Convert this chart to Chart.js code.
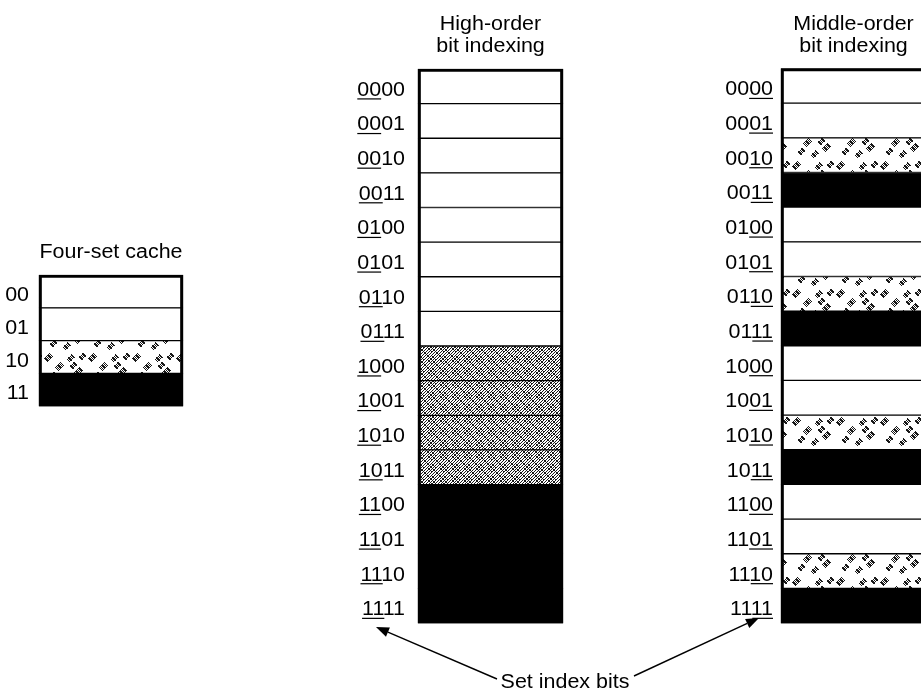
<!DOCTYPE html>
<html><head><meta charset="utf-8">
<script src="https://cdn.jsdelivr.net/npm/chart.js@4/dist/chart.umd.min.js"></script>
<style>html,body{margin:0;padding:0;background:#fff;overflow:hidden}#wrap{width:921px;height:697px;position:relative}</style>
</head><body><div id="wrap"><canvas id="c" width="921" height="697"></canvas></div>
<script>
// ---- data ----
const fourSetLabels = ['00','01','10','11'];
const fourSetSets = [0,1,2,3];
const addressLabels = ['0000','0001','0010','0011','0100','0101','0110','0111','1000','1001','1010','1011','1100','1101','1110','1111'];
const highOrderSets = [0,0,0,0,1,1,1,1,2,2,2,2,3,3,3,3];
const middleOrderSets = [0,1,2,3,0,1,2,3,0,1,2,3,0,1,2,3];
const fourSetTitle = ['Four-set cache'];
const highOrderTitle = ['High-order','bit indexing'];
const middleOrderTitle = ['Middle-order','bit indexing'];
const highOrderUnderline = [0,2];
const middleOrderUnderline = [2,4];
const calloutText = 'Set index bits';

// ---- styles / layout ----
function makePattern(w,h,fn){
  const c=document.createElement('canvas');c.width=w;c.height=h;
  const g=c.getContext('2d');const img=g.createImageData(w,h);
  for(let y=0;y<h;y++)for(let x=0;x<w;x++){
    const i=(y*w+x)*4;const v=fn(x,y)?25:255;
    img.data[i]=v;img.data[i+1]=v;img.data[i+2]=v;img.data[i+3]=255;
  }
  g.putImageData(img,0,0);
  return g.createPattern(c,'repeat');
}
const densePattern = makePattern(12,12,(x,y)=>((x+y)%3===0)||(((x-y+96)%4===0)&&(((x>>2)+(y>>2))%2===0)));
const blobs=[[4,5],[15,14],[26,6],[34,19],[9,23],[22,26],[38,4],[29,13]];
const lightPattern = makePattern(44,32,(x,y)=>{
  for(const [bx,by] of blobs){
    const dx=x-bx,dy=y-by;
    if(Math.abs(dx-dy)<=5 && Math.abs(dx+dy)<=3 && (((x+y)%2===0)||((x-y+44)%3===0))) return true;
  }
  return false;
});

const columns = [
  {labels:fourSetLabels, sets:fourSetSets, title:fourSetTitle, underline:null, cx:111, top:275, cellH:32.8, width:144, gap:10, light:true},
  {labels:addressLabels, sets:highOrderSets, title:highOrderTitle, underline:highOrderUnderline, cx:490.5, top:69, cellH:34.63, width:145, gap:13, light:false},
  {labels:addressLabels, sets:middleOrderSets, title:middleOrderTitle, underline:middleOrderUnderline, cx:853.5, top:68.5, cellH:34.66, width:145, gap:8, light:true}
];
function fillFor(set, col){
  if(set===3) return '#000';
  if(set===2) return col.light ? lightPattern : densePattern;
  return '#fff';
}

const datasets = [];
columns.forEach((col,ci)=>{
  datasets.push({
    label:'col'+ci,
    data: col.sets.map((s,i)=>({x:col.cx, y:[col.top+i*col.cellH, col.top+(i+1)*col.cellH]})),
    backgroundColor: col.sets.map(s=>fillFor(s,col)),
    borderColor:'#000', borderWidth:1, borderSkipped:false,
    barThickness:col.width, grouped:false, order:1
  });
  datasets.push({
    label:'outline'+ci,
    data:[{x:col.cx, y:[col.top, col.top+col.sets.length*col.cellH]}],
    backgroundColor:'rgba(0,0,0,0)', borderColor:'#000', borderWidth:2.5, borderSkipped:false,
    barThickness:col.width, grouped:false, order:0
  });
});

const SX = 1.1;
const FONT = '19.5px "Liberation Sans", Arial, sans-serif';
function drawText(ctx, txt, x, y, align, ul){
  ctx.save(); ctx.translate(x,y); ctx.scale(SX,1);
  ctx.font=FONT; ctx.fillStyle='#000'; ctx.textAlign=align; ctx.textBaseline='alphabetic';
  ctx.fillText(txt,0,0);
  if(ul){
    const full=ctx.measureText(txt).width;
    const x0 = align==='right'? -full : (align==='center'? -full/2 : 0);
    const a=ctx.measureText(txt.slice(0,ul[0])).width;
    const b=ctx.measureText(txt.slice(0,ul[1])).width;
    ctx.fillRect(x0+a, 2.5, b-a, 1.2);
  }
  ctx.restore();
}
function arrow(ctx,x1,y1,x2,y2){
  ctx.save(); ctx.strokeStyle='#000'; ctx.fillStyle='#000'; ctx.lineWidth=1.4;
  const ang=Math.atan2(y2-y1,x2-x1), L=13, W=5;
  const bx=x2-L*Math.cos(ang), by=y2-L*Math.sin(ang);
  ctx.beginPath(); ctx.moveTo(x1,y1); ctx.lineTo(bx,by); ctx.stroke();
  ctx.beginPath(); ctx.moveTo(x2,y2);
  ctx.lineTo(bx+W*Math.sin(ang), by-W*Math.cos(ang));
  ctx.lineTo(bx-W*Math.sin(ang), by+W*Math.cos(ang));
  ctx.closePath(); ctx.fill(); ctx.restore();
}

const annotate = {
  id:'annotate',
  afterDraw(chart){
    const ctx=chart.ctx;
    columns.forEach((col,ci)=>{
      const meta=chart.getDatasetMeta(ci*2);
      meta.data.forEach((el,j)=>{
        const top=Math.min(el.y,el.base), bot=Math.max(el.y,el.base);
        const left=el.x-el.width/2;
        drawText(ctx, col.labels[j], left-col.gap, (top+bot)/2+9.5, 'right', col.underline);
      });
      const om=chart.getDatasetMeta(ci*2+1).data[0];
      const boxTop=Math.min(om.y,om.base);
      const n=col.title.length;
      col.title.forEach((t,k)=>{
        drawText(ctx, t, om.x, boxTop-17-(n-1-k)*22, 'center', null);
      });
    });
    drawText(ctx, calloutText, 565, 688, 'center', null);
    arrow(ctx, 497, 679, 376, 627);
    arrow(ctx, 634, 676, 759, 618);
  }
};

new Chart(document.getElementById('c'), {
  type:'bar',
  data:{datasets},
  options:{
    responsive:false, animation:false, events:[],
    layout:{padding:0},
    scales:{
      x:{type:'linear', min:0, max:921, display:false, offset:false, grid:{offset:false}},
      y:{type:'linear', min:0, max:697, reverse:true, display:false, offset:false}
    },
    plugins:{legend:{display:false}, tooltip:{enabled:false}}
  },
  plugins:[annotate]
});
</script></body></html>
